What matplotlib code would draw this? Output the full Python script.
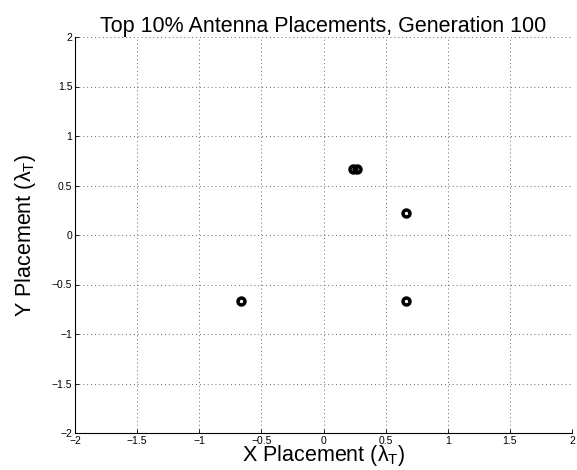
import matplotlib
matplotlib.use('Agg')
import matplotlib.pyplot as plt
import numpy as np

plt.rcParams['font.family'] = ['Liberation Sans', 'DejaVu Sans']
plt.rcParams['mathtext.fontset'] = 'custom'
plt.rcParams['mathtext.rm'] = 'Liberation Sans'
plt.rcParams['axes.unicode_minus'] = True

# antenna placements (in lambda_T), top 10% of generation 100
x_pos = [0.24, 0.27, 0.667, 0.667, -0.667]
y_pos = [0.667, 0.667, 0.222, -0.667, -0.667]

ticks = np.arange(-2, 2.01, 0.5)
tick_labels = ['\u22122', '\u22121.5', '\u22121', '\u22120.5', '0', '0.5', '1', '1.5', '2']

fig = plt.figure(figsize=(5.77, 4.70), dpi=100)
ax = fig.add_axes([75 / 577, 37 / 470, 497 / 577, 396 / 470])

ax.plot(x_pos, y_pos, linestyle='none', marker='o', markersize=5,
        markerfacecolor='none', markeredgecolor='black', markeredgewidth=2.5)

ax.set_xlim(-2, 2)
ax.set_ylim(-2, 2)
ax.set_xticks(ticks)
ax.set_yticks(ticks)
ax.set_xticklabels(tick_labels, fontsize=7.5)
ax.set_yticklabels(tick_labels, fontsize=7.5)
ax.tick_params(direction='in', length=3, width=0.6, pad=2)

ax.spines['top'].set_visible(False)
ax.spines['right'].set_visible(False)
ax.grid(True, linestyle=(0, (1, 3)), color='0.4', linewidth=0.7)

ax.set_title('Top 10% Antenna Placements, Generation 100', fontsize=15.5, pad=3)
ax.set_xlabel('X Placement (\u03bb$_\\mathrm{T}$)', fontsize=15.5, labelpad=-2)
ax.set_ylabel('Y Placement (\u03bb$_\\mathrm{T}$)', fontsize=15.5, labelpad=10)

fig.savefig('out.png', dpi=100)
